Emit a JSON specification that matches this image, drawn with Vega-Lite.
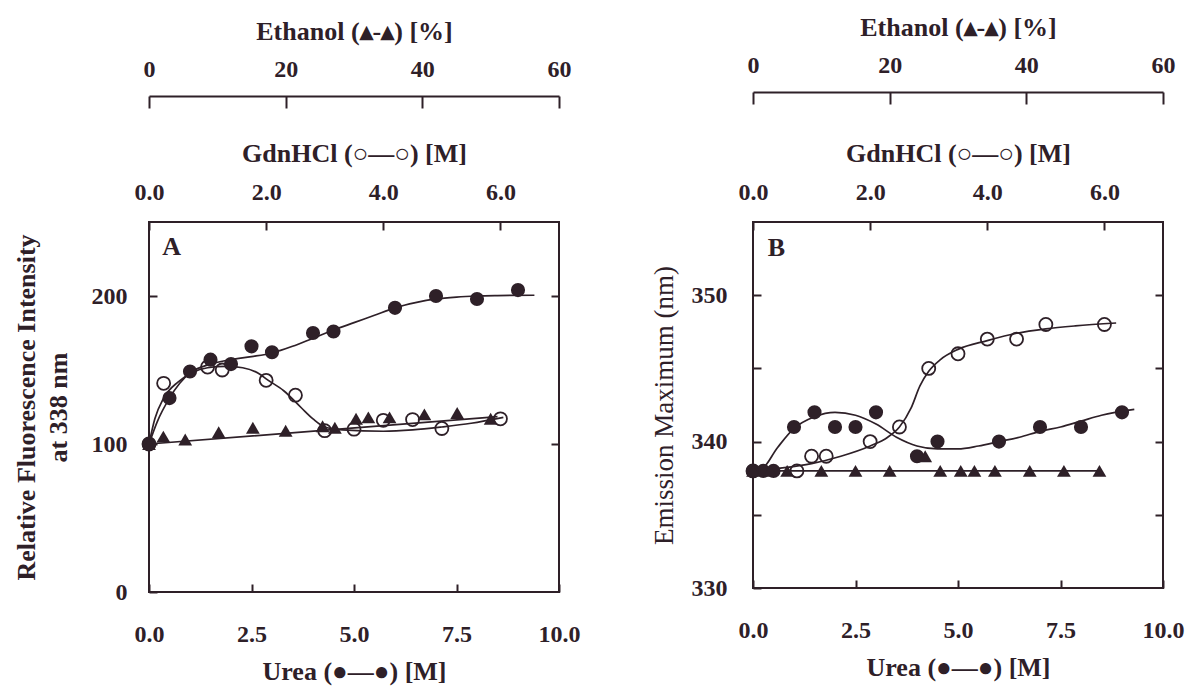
{
  "$schema": "https://vega.github.io/schema/vega-lite/v6.json",
  "background": "white",
  "padding": {"left": 12, "top": 13, "right": 2, "bottom": 2},
  "spacing": 68,
  "config": {
    "view": {"stroke": "#2e2028", "strokeWidth": 2},
    "axis": {
      "labelFont": "Liberation Serif", "labelFontWeight": "bold", "labelFontSize": 24, "labelColor": "#2e2028",
      "titleFont": "Liberation Serif", "titleFontWeight": "bold", "titleFontSize": 26, "titleColor": "#2e2028",
      "tickColor": "#2e2028", "tickWidth": 2, "domainColor": "#2e2028", "domainWidth": 2,
      "grid": false, "labelFlush": false, "labelOverlap": false
    }
  },
  "datasets": {
    "A_urea_pts": [{"x":0,"y":100},{"x":0.5,"y":131},{"x":1.0,"y":149},{"x":1.5,"y":157},{"x":2.0,"y":154},{"x":2.5,"y":166},{"x":3.0,"y":162},{"x":4.0,"y":175},{"x":4.5,"y":176},{"x":6.0,"y":192},{"x":7.0,"y":200},{"x":8.0,"y":198},{"x":9.0,"y":204}],
    "A_urea_fit": [{"x":0,"y":100},{"x":0.2,"y":115},{"x":0.5,"y":131},{"x":0.75,"y":141},{"x":1.0,"y":148},{"x":1.5,"y":154},{"x":2.0,"y":157},{"x":2.5,"y":159},{"x":3.0,"y":161.5},{"x":3.5,"y":166},{"x":4.0,"y":171.5},{"x":4.5,"y":177},{"x":5.0,"y":182},{"x":5.5,"y":187},{"x":6.0,"y":192},{"x":6.5,"y":195.5},{"x":7.0,"y":198},{"x":7.5,"y":199.3},{"x":8.0,"y":200},{"x":8.5,"y":200.3},{"x":9.4,"y":200.5}],
    "A_gdn_pts": [{"x":0,"y":100},{"x":0.25,"y":141},{"x":1.0,"y":152},{"x":1.25,"y":150},{"x":2.0,"y":143},{"x":2.5,"y":133},{"x":3.0,"y":109},{"x":3.5,"y":110},{"x":4.0,"y":116},{"x":4.5,"y":116.5},{"x":5.0,"y":110.5},{"x":6.0,"y":117}],
    "A_gdn_fit": [{"x":0,"y":100},{"x":0.1,"y":117},{"x":0.25,"y":131},{"x":0.5,"y":142},{"x":0.75,"y":148.5},{"x":1.0,"y":151.5},{"x":1.3,"y":152.5},{"x":1.6,"y":151.5},{"x":1.9,"y":147},{"x":2.0,"y":144},{"x":2.3,"y":136},{"x":2.6,"y":124.5},{"x":2.8,"y":117},{"x":3.0,"y":111.5},{"x":3.3,"y":109.5},{"x":4.0,"y":108.6},{"x":4.5,"y":109.5},{"x":5.0,"y":111.5},{"x":5.5,"y":114},{"x":6.05,"y":118}],
    "A_eth_pts": [{"x":0,"y":100},{"x":2.1,"y":105},{"x":5.3,"y":103},{"x":10.2,"y":108},{"x":15.2,"y":111},{"x":20,"y":109},{"x":25.4,"y":112},{"x":27.2,"y":111},{"x":30.3,"y":117},{"x":32.1,"y":118},{"x":35.2,"y":118},{"x":40.3,"y":120},{"x":45.1,"y":121},{"x":50,"y":117}],
    "A_eth_fit": [{"x":0,"y":100},{"x":25,"y":109},{"x":51,"y":118.5}],
    "B_urea_pts": [{"x":0,"y":338},{"x":0.25,"y":338},{"x":0.5,"y":338},{"x":1.0,"y":341},{"x":1.5,"y":342},{"x":2.0,"y":341},{"x":2.5,"y":341},{"x":3.0,"y":342},{"x":4.0,"y":339},{"x":4.5,"y":340},{"x":6.0,"y":340},{"x":7.0,"y":341},{"x":8.0,"y":341},{"x":9.0,"y":342}],
    "B_urea_fit": [{"x":0,"y":338},{"x":0.2,"y":338.1},{"x":0.6,"y":339.6},{"x":1.0,"y":340.9},{"x":1.5,"y":341.7},{"x":2.0,"y":342.0},{"x":2.5,"y":341.8},{"x":3.0,"y":341.2},{"x":3.5,"y":340.3},{"x":4.0,"y":339.7},{"x":4.5,"y":339.5},{"x":5.0,"y":339.5},{"x":5.5,"y":339.7},{"x":6.0,"y":340.0},{"x":6.5,"y":340.3},{"x":7.0,"y":340.7},{"x":7.5,"y":341.0},{"x":8.0,"y":341.4},{"x":8.5,"y":341.8},{"x":9.3,"y":342.2}],
    "B_gdn_pts": [{"x":0,"y":338},{"x":0.75,"y":338},{"x":1.0,"y":339},{"x":1.25,"y":339},{"x":2.0,"y":340},{"x":2.5,"y":341},{"x":3.0,"y":345},{"x":3.5,"y":346},{"x":4.0,"y":347},{"x":4.5,"y":347},{"x":5.0,"y":348},{"x":6.0,"y":348}],
    "B_gdn_fit": [{"x":0,"y":338},{"x":0.5,"y":338.2},{"x":1.0,"y":338.5},{"x":1.5,"y":339.0},{"x":2.0,"y":339.7},{"x":2.3,"y":340.3},{"x":2.5,"y":341.0},{"x":2.7,"y":342.3},{"x":2.85,"y":343.8},{"x":3.0,"y":344.8},{"x":3.2,"y":345.6},{"x":3.5,"y":346.3},{"x":4.0,"y":346.9},{"x":4.5,"y":347.4},{"x":5.0,"y":347.7},{"x":5.5,"y":347.9},{"x":6.2,"y":348.1}],
    "B_eth_pts": [{"x":0,"y":338},{"x":2.5,"y":338},{"x":5,"y":338},{"x":10,"y":338},{"x":15,"y":338},{"x":20,"y":338},{"x":25.2,"y":339},{"x":27.4,"y":338},{"x":30.4,"y":338},{"x":32.4,"y":338},{"x":35.4,"y":338},{"x":40.5,"y":338},{"x":45.5,"y":338},{"x":50.7,"y":338}],
    "B_eth_fit": [{"x":0,"y":338},{"x":51,"y":338}],
    "A_label": [{"x":0.55,"y":233,"t":"A"}],
    "B_label": [{"x":0.57,"y":353.2,"t":"B"}]
  },
  "hconcat": [
    {
      "width": 410, "height": 370,
      "resolve": {"scale": {"x": "independent", "y": "independent"}},
      "layer": [
        {"data": {"name": "A_urea_fit"}, "mark": {"type": "line", "interpolate": "monotone", "color": "#2e2028", "strokeWidth": 1.7},
         "encoding": {"x": {"field": "x", "type": "quantitative", "scale": {"domain": [0, 10], "nice": false}, "axis": null},
                      "y": {"field": "y", "type": "quantitative", "scale": {"domain": [0, 250], "nice": false}, "axis": null}}},
        {"data": {"name": "A_gdn_fit"}, "mark": {"type": "line", "interpolate": "monotone", "color": "#2e2028", "strokeWidth": 1.7},
         "encoding": {"x": {"field": "x", "type": "quantitative", "scale": {"domain": [0, 7], "nice": false}, "axis": null},
                      "y": {"field": "y", "type": "quantitative", "scale": {"domain": [0, 250], "nice": false}, "axis": null}}},
        {"data": {"name": "A_eth_fit"}, "mark": {"type": "line", "interpolate": "monotone", "color": "#2e2028", "strokeWidth": 1.7},
         "encoding": {"x": {"field": "x", "type": "quantitative", "scale": {"domain": [0, 60], "nice": false}, "axis": null},
                      "y": {"field": "y", "type": "quantitative", "scale": {"domain": [0, 250], "nice": false}, "axis": null}}},
        {"data": {"name": "A_urea_pts"}, "mark": {"type": "point", "shape": "circle", "filled": true, "size": 200, "color": "#2e2028", "opacity": 1},
         "encoding": {"x": {"field": "x", "type": "quantitative", "scale": {"domain": [0, 10], "nice": false},
                            "axis": {"orient": "bottom", "values": [0, 2.5, 5, 7.5, 10], "format": ".1f", "tickSize": -8, "labelPadding": 38, "domain": false, "title": "Urea (●—●) [M]", "titlePadding": 12}},
                      "y": {"field": "y", "type": "quantitative", "scale": {"domain": [0, 250], "nice": false},
                            "axis": {"orient": "left", "values": [0, 100, 200], "tickSize": -8, "labelPadding": 30, "domain": false, "title": ["Relative Fluorescence Intensity", "at 338 nm"], "titlePadding": 20, "titleLineHeight": 32}}}},
        {"data": {"name": "A_gdn_pts"}, "mark": {"type": "point", "shape": "circle", "filled": false, "size": 170, "color": "#2e2028", "strokeWidth": 1.8, "opacity": 1},
         "encoding": {"x": {"field": "x", "type": "quantitative", "scale": {"domain": [0, 7], "nice": false},
                            "axis": {"orient": "top", "values": [0, 2, 4, 6], "format": ".1f", "tickSize": -8, "labelPadding": 26, "domain": false, "title": "GdnHCl (○—○) [M]", "titlePadding": 14}},
                      "y": {"field": "y", "type": "quantitative", "scale": {"domain": [0, 250], "nice": false},
                            "axis": {"orient": "right", "values": [100, 200], "tickSize": -8, "labels": false, "domain": false, "title": null}}}},
        {"data": {"name": "A_eth_pts"}, "mark": {"type": "point", "shape": "triangle-up", "filled": true, "size": 190, "color": "#2e2028", "opacity": 1},
         "encoding": {"x": {"field": "x", "type": "quantitative", "scale": {"domain": [0, 60], "nice": false},
                            "axis": {"orient": "top", "offset": 126, "values": [0, 20, 40, 60], "format": "d", "tickSize": -12, "labelPadding": 27, "domain": true, "title": "Ethanol (▴-▴) [%]", "titlePadding": 13}},
                      "y": {"field": "y", "type": "quantitative", "scale": {"domain": [0, 250], "nice": false}, "axis": null}}},
        {"data": {"name": "A_label"}, "mark": {"type": "text", "font": "Liberation Serif", "fontWeight": "bold", "fontSize": 26, "color": "#2e2028"},
         "encoding": {"x": {"field": "x", "type": "quantitative", "scale": {"domain": [0, 10], "nice": false}, "axis": null},
                      "y": {"field": "y", "type": "quantitative", "scale": {"domain": [0, 250], "nice": false}, "axis": null},
                      "text": {"field": "t"}}}
      ]
    },
    {
      "width": 410, "height": 366,
      "resolve": {"scale": {"x": "independent", "y": "independent"}},
      "layer": [
        {"data": {"name": "B_urea_fit"}, "mark": {"type": "line", "interpolate": "monotone", "color": "#2e2028", "strokeWidth": 1.7},
         "encoding": {"x": {"field": "x", "type": "quantitative", "scale": {"domain": [0, 10], "nice": false}, "axis": null},
                      "y": {"field": "y", "type": "quantitative", "scale": {"domain": [330, 355], "nice": false, "zero": false}, "axis": null}}},
        {"data": {"name": "B_gdn_fit"}, "mark": {"type": "line", "interpolate": "monotone", "color": "#2e2028", "strokeWidth": 1.7},
         "encoding": {"x": {"field": "x", "type": "quantitative", "scale": {"domain": [0, 7], "nice": false}, "axis": null},
                      "y": {"field": "y", "type": "quantitative", "scale": {"domain": [330, 355], "nice": false, "zero": false}, "axis": null}}},
        {"data": {"name": "B_eth_fit"}, "mark": {"type": "line", "color": "#2e2028", "strokeWidth": 1.7},
         "encoding": {"x": {"field": "x", "type": "quantitative", "scale": {"domain": [0, 60], "nice": false}, "axis": null},
                      "y": {"field": "y", "type": "quantitative", "scale": {"domain": [330, 355], "nice": false, "zero": false}, "axis": null}}},
        {"data": {"name": "B_urea_pts"}, "mark": {"type": "point", "shape": "circle", "filled": true, "size": 200, "color": "#2e2028", "opacity": 1},
         "encoding": {"x": {"field": "x", "type": "quantitative", "scale": {"domain": [0, 10], "nice": false},
                            "axis": {"orient": "bottom", "values": [0, 2.5, 5, 7.5, 10], "format": ".1f", "tickSize": -8, "labelPadding": 38, "domain": false, "title": "Urea (●—●) [M]", "titlePadding": 12}},
                      "y": {"field": "y", "type": "quantitative", "scale": {"domain": [330, 355], "nice": false, "zero": false},
                            "axis": {"orient": "left", "values": [330, 335, 340, 345, 350], "labelExpr": "datum.value % 10 == 0 ? datum.label : ''", "tickSize": -8, "labelPadding": 34, "domain": false, "title": "Emission Maximum (nm)", "titleFontWeight": "normal", "titleFontSize": 27, "titlePadding": 13}}}},
        {"data": {"name": "B_gdn_pts"}, "mark": {"type": "point", "shape": "circle", "filled": false, "size": 170, "color": "#2e2028", "strokeWidth": 1.8, "opacity": 1},
         "encoding": {"x": {"field": "x", "type": "quantitative", "scale": {"domain": [0, 7], "nice": false},
                            "axis": {"orient": "top", "values": [0, 2, 4, 6], "format": ".1f", "tickSize": -8, "labelPadding": 26, "domain": false, "title": "GdnHCl (○—○) [M]", "titlePadding": 14}},
                      "y": {"field": "y", "type": "quantitative", "scale": {"domain": [330, 355], "nice": false, "zero": false},
                            "axis": {"orient": "right", "values": [335, 340, 345, 350], "tickSize": -8, "labels": false, "domain": false, "title": null}}}},
        {"data": {"name": "B_eth_pts"}, "mark": {"type": "point", "shape": "triangle-up", "filled": true, "size": 190, "color": "#2e2028", "opacity": 1},
         "encoding": {"x": {"field": "x", "type": "quantitative", "scale": {"domain": [0, 60], "nice": false},
                            "axis": {"orient": "top", "offset": 130, "values": [0, 20, 40, 60], "format": "d", "tickSize": -12, "labelPadding": 27, "domain": true, "title": "Ethanol (▴-▴) [%]", "titlePadding": 13}},
                      "y": {"field": "y", "type": "quantitative", "scale": {"domain": [330, 355], "nice": false, "zero": false}, "axis": null}}},
        {"data": {"name": "B_label"}, "mark": {"type": "text", "font": "Liberation Serif", "fontWeight": "bold", "fontSize": 26, "color": "#2e2028"},
         "encoding": {"x": {"field": "x", "type": "quantitative", "scale": {"domain": [0, 10], "nice": false}, "axis": null},
                      "y": {"field": "y", "type": "quantitative", "scale": {"domain": [330, 355], "nice": false, "zero": false}, "axis": null},
                      "text": {"field": "t"}}}
      ]
    }
  ]
}
